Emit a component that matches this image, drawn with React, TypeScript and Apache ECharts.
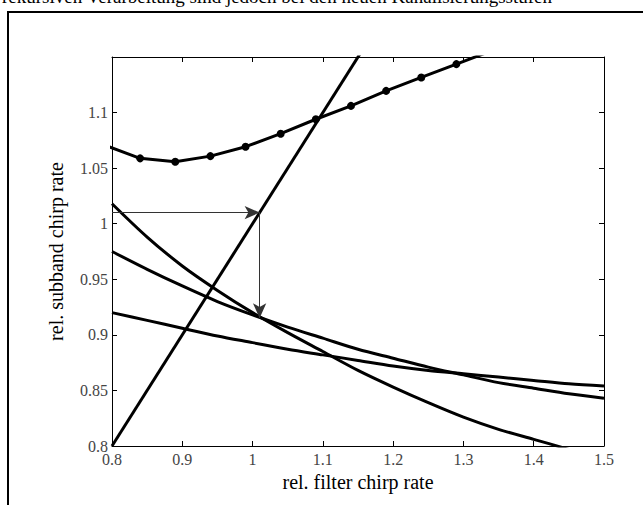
import React, { useEffect, useRef } from "react";
import * as echarts from "echarts";

// data
const markerX = [0.79, 0.84, 0.89, 0.94, 0.99, 1.04, 1.09, 1.14, 1.19, 1.24, 1.29, 1.34];
const markerY = [1.0705, 1.0588, 1.0558, 1.0608, 1.0693, 1.081, 1.094, 1.106, 1.1195, 1.1316, 1.1436, 1.1556];
const diagX = [0.8, 1.2];
const diagY = [0.8, 1.2];
const curveX = [0.8, 0.85, 0.9, 0.95, 1.0, 1.05, 1.1, 1.15, 1.2, 1.25, 1.3, 1.35, 1.4, 1.45, 1.5];
const curveC = [1.018, 0.988, 0.962, 0.94, 0.92, 0.902, 0.885, 0.868, 0.853, 0.839, 0.826, 0.815, 0.806, 0.797];
const curveD = [0.975, 0.959, 0.944, 0.93, 0.918, 0.907, 0.897, 0.887, 0.879, 0.871, 0.864, 0.857, 0.852, 0.847, 0.843];
const curveE = [0.92, 0.913, 0.906, 0.899, 0.893, 0.887, 0.882, 0.877, 0.872, 0.868, 0.865, 0.862, 0.859, 0.856, 0.854];
const arrowH = [[0.8, 1.01], [1.01, 1.01]];
const arrowV = [[1.01, 1.01], [1.01, 0.915]];
const xLabel = "rel. filter chirp rate";
const yLabel = "rel. subband chirp rate";
const topText = "rekursiven Verarbeitung sind jedoch bei den neuen Kanalisierungsstufen";

const FONT = "Liberation Serif";

const zip = (xs: number[], ys: number[]) => ys.map((y, i) => [xs[i], y]);
const fmt = (v: number) => String(parseFloat(v.toFixed(2)));

export default function App() {
  const ref = useRef<HTMLDivElement>(null);
  useEffect(() => {
    const chart = echarts.init(ref.current!, null, { renderer: "svg" });
    const lineCommon = {
      type: "line",
      xAxisIndex: 0,
      yAxisIndex: 0,
      clip: true,
      showSymbol: false,
      symbol: "none",
      lineStyle: { color: "#000", width: 3 },
      silent: true,
    };
    const axisCommon = {
      axisLine: { show: true, onZero: false, lineStyle: { color: "#000", width: 1 } },
      axisTick: { show: true, inside: true, length: 5, lineStyle: { color: "#000" } },
      splitLine: { show: false },
    };
    chart.setOption({
      animation: false,
      backgroundColor: "#fff",
      grid: { left: 112, right: 39, top: 57, bottom: 59, containLabel: false },
      graphic: [
        {
          type: "rect",
          shape: { x: 8, y: 12, width: 700, height: 600 },
          style: { fill: "none", stroke: "#000", lineWidth: 2 },
          silent: true,
        },
        {
          type: "text",
          x: 2,
          y: 6,
          style: {
            text: topText,
            font: `19px "${FONT}"`,
            fill: "#000",
            textVerticalAlign: "bottom",
          },
          silent: true,
        },
      ],
      xAxis: [
        {
          type: "value",
          min: 0.8,
          max: 1.5,
          interval: 0.1,
          position: "bottom",
          name: xLabel,
          nameLocation: "middle",
          nameGap: 32,
          nameTextStyle: { fontFamily: FONT, fontSize: 20, color: "#000", verticalAlign: "middle" },
          axisLabel: { formatter: fmt, fontFamily: FONT, fontSize: 16, color: "#444", margin: 5 },
          ...axisCommon,
        },
        {
          type: "value",
          min: 0.8,
          max: 1.5,
          interval: 0.1,
          position: "top",
          axisLabel: { show: false },
          ...axisCommon,
        },
      ],
      yAxis: [
        {
          type: "value",
          min: 0.8,
          max: 1.15,
          interval: 0.05,
          position: "left",
          name: yLabel,
          nameLocation: "middle",
          nameGap: 56,
          nameRotate: 90,
          nameTextStyle: { fontFamily: FONT, fontSize: 20, color: "#000", verticalAlign: "middle" },
          axisLabel: { formatter: fmt, fontFamily: FONT, fontSize: 16, color: "#444", margin: 4, showMaxLabel: false },
          ...axisCommon,
        },
        {
          type: "value",
          min: 0.8,
          max: 1.15,
          interval: 0.05,
          position: "right",
          axisLabel: { show: false },
          ...axisCommon,
        },
      ],
      series: [
        { ...lineCommon, name: "C", data: zip(curveX, curveC), smooth: 0.3 },
        { ...lineCommon, name: "D", data: zip(curveX, curveD), smooth: 0.3 },
        { ...lineCommon, name: "E", data: zip(curveX, curveE), smooth: 0.3 },
        {
          ...lineCommon,
          name: "diag",
          data: zip(diagX, diagY),
          markLine: {
            silent: true,
            symbol: ["none", "arrow"],
            symbolSize: [10, 15],
            label: { show: false },
            lineStyle: { color: "#333", width: 1, type: "solid" },
            data: [
              [{ coord: arrowH[0] }, { coord: arrowH[1] }],
              [{ coord: arrowV[0] }, { coord: arrowV[1] }],
            ],
          },
        },
        {
          ...lineCommon,
          name: "markers",
          data: zip(markerX, markerY),
          showSymbol: true,
          symbol: "circle",
          symbolSize: 8,
          itemStyle: { color: "#000" },
        },
      ],
    });
    return () => chart.dispose();
  }, []);
  return (
    <div
      ref={ref}
      style={{ position: "absolute", left: 0, top: 0, width: 643, height: 505 }}
    />
  );
}
